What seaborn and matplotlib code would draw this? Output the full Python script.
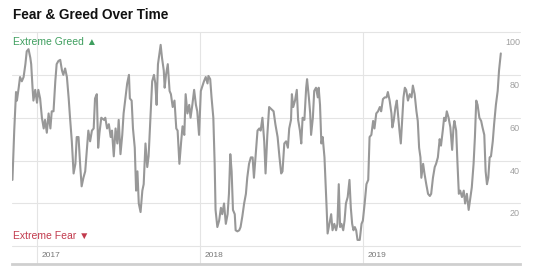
import numpy as np
import pandas as pd
import matplotlib
matplotlib.use("Agg")
import matplotlib.pyplot as plt
import matplotlib.dates as mdates
import seaborn as sns

sns.set_style("white")
plt.rcParams['font.family'] = ['Liberation Sans', 'DejaVu Sans']

# ---------------- data ----------------
title = "Fear & Greed Over Time"
greed_label = "Extreme Greed \u25B2"
fear_label = "Extreme Fear \u25BC"
years = [2017, 2018, 2019]
year_labels = ["2017", "2018", "2019"]
value_ticks = [20, 40, 60, 80, 100]
grid_values = [0, 20, 40, 60, 80, 100]
origin = "2017-01-01"

# days since 2017-01-01
day_offsets = [
    -55, -51, -47, -45, -41, -38, -34, -30, -26, -23,
    -19, -15, -13, -10, -8, -4, 0, 3, 7, 11,
    15, 18, 22, 26, 30, 33, 37, 41, 44, 48,
    52, 56, 59, 63, 67, 71, 74, 78, 82, 86,
    89, 93, 97, 100, 104, 108, 112, 115, 119, 123,
    127, 130, 134,
    137, 140, 144, 150, 153, 157, 161, 165, 168, 172,
    176, 180, 183, 187, 191, 194, 198, 202, 206, 208,
    212, 215, 219, 222, 225, 228, 232, 236, 239, 243,
    247, 250, 254, 258, 262, 265, 268, 271, 275, 277,
    280, 284, 286, 289, 293, 297, 300, 304, 308, 312,
    315, 319, 323, 326,
    330, 333, 337, 341, 344, 348, 352, 356, 359, 363,
    367, 371, 374, 378, 382, 384, 388, 391, 395, 398,
    400, 404, 408, 412, 415, 419, 423, 427, 430, 433,
    436, 439, 443, 445, 449, 453, 456, 460, 464, 468,
    471, 475, 479, 483, 486, 490, 494, 498, 501, 505,
    509, 512, 516, 520, 525,
    530, 534, 539, 543, 547, 550, 554, 558, 562, 565,
    569, 571, 574, 578, 582, 585, 589, 592, 595, 599,
    603, 605, 609, 612, 614, 618, 621, 625, 629, 631,
    634, 637, 640, 644, 646, 649, 651, 655, 659, 662,
    666, 670, 673, 676, 679, 682, 686, 689, 692, 696,
    700, 703, 706, 709, 712, 715, 718,
    723, 727, 730, 734, 738, 742, 745, 749, 753, 756,
    760, 764, 768, 771, 775, 779, 783, 786, 790, 794,
    796, 799, 803, 806, 810, 812, 815, 818, 821, 824,
    827, 831, 835, 839, 842, 846, 850, 853, 856, 859,
    861, 865, 868, 872, 876, 880, 883, 887, 891, 894,
    898, 902, 905, 909,
    912, 915, 918, 922, 926, 930, 933, 935, 939, 942,
    945, 948, 952, 956, 959, 963, 967, 971, 974, 978,
    981, 984, 987, 991, 995, 998, 1002, 1005, 1008, 1011,
    1014, 1017, 1021, 1024, 1028, 1032, 1035, 1039,
]

fg_values = [
    31, 54, 72, 68, 74, 79, 77, 79, 85, 91,
    92, 88, 85, 74, 68, 73, 67, 73, 69, 60,
    55, 59, 53, 62, 55, 63, 63, 77, 85, 86.5,
    87, 82, 80, 83, 79, 69, 60, 49, 34, 38.5,
    51, 51, 37, 28, 32, 35, 46, 54, 49, 54,
    55, 69, 71,
    46, 53, 60, 59, 60, 55, 57, 51, 54, 42,
    55, 48, 59, 43, 52, 62, 69, 76, 80, 69,
    68, 55, 46, 26, 35, 20, 16, 26, 29, 48,
    37, 42, 60, 77, 80, 76, 66, 85, 91, 94,
    88, 82, 74, 80, 85, 72.5, 71, 65, 68, 55,
    54, 38.5, 49, 56,
    52, 71, 62, 66, 60, 66, 73, 66, 63, 52,
    72.5, 75, 77, 79, 76, 79.5, 78, 69.5, 60, 38.5,
    17, 9, 12, 18, 15, 20, 10.5, 15, 24.5, 43,
    35, 17, 15, 7.5, 7, 7.5, 9, 14, 20, 24.5,
    32, 38.5, 41.5, 41.5, 32, 43, 54, 55, 54, 60,
    49, 34, 52, 65, 64,
    63, 57, 51, 42, 34, 35, 48, 49, 46, 55,
    59, 71, 65, 68, 73, 59, 54, 48, 60, 59,
    74, 78, 69.5, 62, 52, 60, 72.5, 74, 69.5, 74,
    66, 48, 51, 41.5, 32, 17, 6, 10.5, 15, 7.5,
    10.5, 7.5, 10.5, 29, 9, 10.5, 7.5, 12, 20, 23,
    31, 18, 10.5, 7.5, 9, 7.5, 3,
    3, 10.5, 12, 20, 29, 31, 51, 52, 58.5, 55,
    62, 63, 65, 63, 68.7, 69.5, 69.5, 72, 68, 62,
    55.5, 58.5, 65, 68, 58.5, 54, 48, 58.5, 69.5, 74,
    73, 68, 71, 69.5, 75, 71, 63, 58.5, 46, 41.5,
    32, 38.5, 34, 29, 24.5, 23.5, 24.5, 32, 37, 38.5,
    41.5, 50, 47, 54,
    60, 58.5, 63, 60, 55.5, 45, 55.5, 58.5, 54, 38.5,
    24.5, 26, 23, 26, 20, 24.5, 17, 23, 27.5, 38.5,
    51, 68, 66, 60, 58.5, 55.5, 52, 35, 29, 32,
    41.5, 42, 49, 57, 66, 72.5, 82, 90,
]

assert len(day_offsets) == len(fg_values)

df = pd.DataFrame({
    "date": pd.Timestamp(origin) + pd.to_timedelta(day_offsets, unit="D"),
    "value": fg_values,
})

# ---------------- figure ----------------
W, H = 536, 266
fig = plt.figure(figsize=(W / 100, H / 100), dpi=100)
fig.patch.set_facecolor("white")
ax = fig.add_axes([12 / W, 2.5 / H, 508 / W, 231.5 / H])
ax.set_facecolor("white")

grid_color = "#e4e4e4"
for v in grid_values:
    ax.axhline(v, color=grid_color, lw=0.8, zorder=0, clip_on=False)
for yr in years:
    ax.axvline(pd.Timestamp(f"{yr}-01-01"), color=grid_color, lw=0.8, zorder=0)

sns.lineplot(data=df, x="date", y="value", ax=ax, color="#989898",
             linewidth=1.5, errorbar=None, zorder=3)

ax.set_xlim(pd.Timestamp(origin) - pd.Timedelta(days=56),
            pd.Timestamp(origin) + pd.Timedelta(days=1082))
ax.set_ylim(-8, 100)

for s in ["top", "left", "right"]:
    ax.spines[s].set_visible(False)
ax.spines["bottom"].set_color("#cfcfcf")
ax.spines["bottom"].set_linewidth(2.0)
ax.set_xticks([])
ax.set_yticks([])
ax.set_xlabel("")
ax.set_ylabel("")

for t in value_ticks:
    ax.annotate(str(t), xy=(1, t), xycoords=("axes fraction", "data"),
                xytext=(0, -7.5), textcoords="offset points",
                ha="right", va="center", fontsize=6.5, color="#a0a0a0")

for yr, lbl in zip(years, year_labels):
    ax.annotate(lbl, xy=(mdates.date2num(pd.Timestamp(f"{yr}-01-01")), -4.5),
                xycoords="data", xytext=(3.3, 0), textcoords="offset points",
                ha="left", va="center", fontsize=6, color="#777777")

fig.text(13 / W, 1 - 15 / H, title, fontsize=9.8, fontweight="bold",
         ha="left", va="center", color="#111111")
fig.text(13 / W, 1 - 42 / H, greed_label, fontsize=7.5, color="#3f9f5f",
         ha="left", va="center")
fig.text(13 / W, 1 - 236 / H, fear_label, fontsize=7.5, color="#c23a4d",
         ha="left", va="center")

fig.savefig("out.png", dpi=100)
